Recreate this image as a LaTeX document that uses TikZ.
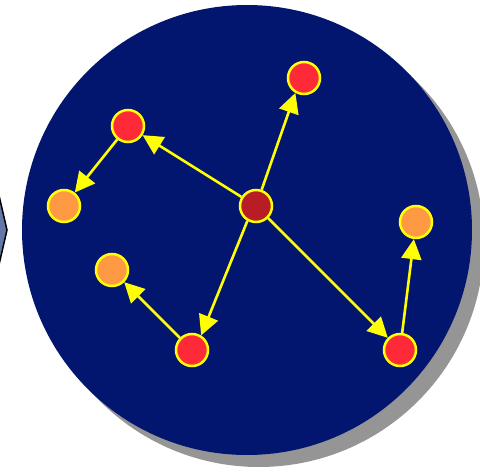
\documentclass[tikz,border=0pt]{standalone}
\usetikzlibrary{arrows.meta}
\definecolor{poolbg}{HTML}{03166F}
\definecolor{shadowgray}{HTML}{959595}
\definecolor{slatefill}{HTML}{6577A6}
\definecolor{linkyellow}{HTML}{FFFF00}
\definecolor{rootred}{HTML}{B81C24}
\definecolor{nodered}{HTML}{FF2A38}
\definecolor{leaforange}{HTML}{FF9A44}
\begin{document}
\begin{tikzpicture}[
  x=1pt, y=-1pt,
  vertex/.style={circle, draw=linkyellow, line width=2.5pt, minimum size=32pt,
                 inner sep=0pt},
  rootv/.style={vertex, fill=rootred},
  midv/.style={vertex, fill=nodered},
  leafv/.style={vertex, fill=leaforange},
  link/.style={-{Triangle[length=20pt,width=20pt]}, draw=linkyellow,
               fill=linkyellow, line width=2.6pt},
]
\useasboundingbox (0,0) rectangle (480,472);

% background pool, its shadow and the neighbour shape at the left
\begin{scope}
  \clip (0,0) rectangle (480,472);
  \fill[shadowgray] (259,242) circle[radius=225pt];
  \fill[poolbg] (247,230) circle[radius=225pt];
  \filldraw[fill=slatefill, draw=black, line width=1.5pt]
    (-8,165) -- (7,230) -- (-8,295) -- cycle;
\end{scope}

% vertices
\node[rootv] (root)  at (256,206) {};
\node[midv]  (top)   at (304,78)  {};
\node[midv]  (upl)   at (128,126) {};
\node[leafv] (left)  at (64,206)  {};
\node[midv]  (bot)   at (192,350) {};
\node[leafv] (lowl)  at (112,270) {};
\node[midv]  (botr)  at (400,350) {};
\node[leafv] (right) at (416,222) {};

% links
\draw[link] (root) -- (top.240);
\draw[link] (root) -- (upl);
\draw[link] (upl) -- (left);
\draw[link] (root.240) -- (bot.58);
\draw[link] (bot) -- (lowl);
\draw[link] (root) -- (botr);
\draw[link] (botr) -- (right);

\end{tikzpicture}
\end{document}
